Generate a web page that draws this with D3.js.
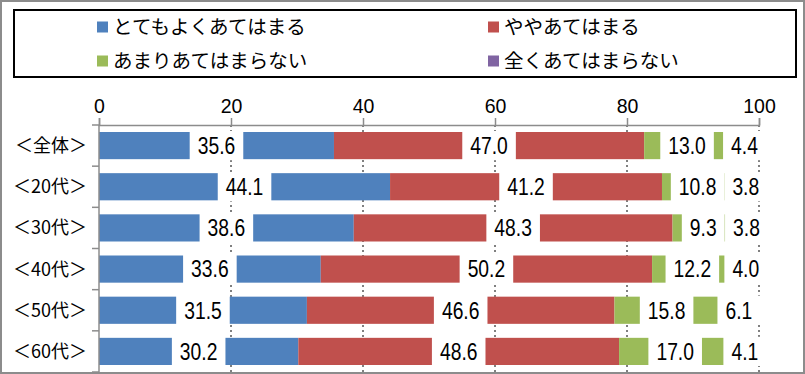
<!DOCTYPE html>
<html>

<head>
    <meta charset="UTF-8">
    <style>
        body { margin: 0; background: #fff; }
        svg { display: block; }
    </style>
</head>

<body>
    <div id="chart"></div>

    <script src="https://d3js.org/d3.v7.min.js"></script>
    <script>

        // Data
        const categories = ["＜全体＞", "＜20代＞", "＜30代＞", "＜40代＞", "＜50代＞", "＜60代＞"];
        const seriesNames = ["とてもよくあてはまる", "ややあてはまる", "あまりあてはまらない", "全くあてはまらない"];
        const seriesColors = ["#4F81BD", "#C0504D", "#9BBB59", "#8064A2"];
        const veryMuch = [35.6, 44.1, 38.6, 33.6, 31.5, 30.2];
        const somewhat = [47.0, 41.2, 48.3, 50.2, 46.6, 48.6];
        const notMuch = [13.0, 10.8, 9.3, 12.2, 15.8, 17.0];
        const notAtAll = [4.4, 3.8, 3.8, 4.0, 6.1, 4.1];
        const xTicks = [0, 20, 40, 60, 80, 100];

        const W = 805, H = 374;
        const plot = { left: 99, right: 759, top: 125, bottom: 372 };

        const svg = d3.select("#chart").append("svg")
            .attr("width", W)
            .attr("height", H);

        // outer frame
        svg.append("rect")
            .attr("x", 1).attr("y", 1)
            .attr("width", W - 2).attr("height", H - 2)
            .attr("fill", "#fff")
            .attr("stroke", "#8c8c8c")
            .attr("stroke-width", 2);

        // legend box
        svg.append("rect")
            .attr("x", 14).attr("y", 10)
            .attr("width", 782).attr("height", 67)
            .attr("fill", "none")
            .attr("stroke", "#000")
            .attr("stroke-width", 2);

        const legendPos = [[97, 27], [488, 27], [97, 61], [488, 61]];
        const legend = svg.append("g").selectAll("g")
            .data(seriesNames)
            .join("g")
            .attr("transform", (d, i) => `translate(${legendPos[i][0]}, ${legendPos[i][1]})`);
        legend.append("rect")
            .attr("x", 0).attr("y", -5.5)
            .attr("width", 11).attr("height", 11)
            .attr("fill", (d, i) => seriesColors[i]);
        legend.append("text")
            .attr("x", 16).attr("y", 0)
            .attr("dy", "0.36em")
            .style("font-family", "'Noto Sans CJK JP', sans-serif")
            .style("font-size", "19.5px")
            .attr("fill", "#000")
            .text(d => d);

        // scales
        const x = d3.scaleLinear().domain([0, 100]).range([plot.left, plot.right]);
        const y = d3.scaleBand().domain(categories).range([plot.top, plot.bottom]).paddingInner(0.34).paddingOuter(0.17);

        // dotted grid
        svg.append("g").selectAll("line")
            .data(xTicks.slice(1))
            .join("line")
            .attr("x1", d => x(d)).attr("x2", d => x(d))
            .attr("y1", plot.top).attr("y2", plot.bottom)
            .attr("stroke", "#000")
            .attr("stroke-width", 1)
            .attr("stroke-dasharray", "2,3");

        // top axis
        const xAxis = svg.append("g")
            .attr("transform", `translate(0, ${plot.top})`)
            .call(d3.axisTop(x).tickValues(xTicks).tickSize(7).tickPadding(5));
        xAxis.select(".domain").attr("stroke", "#8c8c8c").attr("stroke-width", 1.5);
        xAxis.selectAll(".tick line").attr("stroke", "#8c8c8c").attr("stroke-width", 1.5);
        xAxis.selectAll("text")
            .style("font-family", "Arial, 'Liberation Sans', sans-serif")
            .style("font-size", "19.5px")
            .attr("fill", "#000");

        // stacked data
        const table = categories.map((c, i) => ({
            cat: c,
            vals: [veryMuch[i], somewhat[i], notMuch[i], notAtAll[i]]
        }));
        const segs = [];
        table.forEach(row => {
            let acc = 0;
            row.vals.forEach((v, k) => {
                segs.push({ cat: row.cat, k: k, v: v, x0: acc, x1: acc + v });
                acc += v;
            });
        });

        svg.append("g").selectAll("rect")
            .data(segs)
            .join("rect")
            .attr("x", d => x(d.x0))
            .attr("y", d => y(d.cat))
            .attr("width", d => x(d.x1) - x(d.x0))
            .attr("height", y.bandwidth())
            .attr("fill", d => seriesColors[d.k]);

        // left axis (band boundaries as ticks)
        const yl = svg.append("g");
        yl.append("line")
            .attr("x1", plot.left).attr("x2", plot.left)
            .attr("y1", plot.top).attr("y2", plot.bottom)
            .attr("stroke", "#8c8c8c").attr("stroke-width", 1.5);
        yl.selectAll(".bt")
            .data(d3.range(categories.length + 1))
            .join("line")
            .attr("class", "bt")
            .attr("x1", plot.left - 7).attr("x2", plot.left)
            .attr("y1", i => plot.top + i * y.step())
            .attr("y2", i => plot.top + i * y.step())
            .attr("stroke", "#8c8c8c").attr("stroke-width", 1.5);
        yl.selectAll("text")
            .data(categories)
            .join("text")
            .attr("x", 87)
            .attr("y", d => y(d) + y.bandwidth() / 2)
            .attr("dy", "0.36em")
            .attr("text-anchor", "end")
            .style("font-family", "'Noto Sans CJK JP', sans-serif")
            .style("font-size", "18px")
            .attr("fill", "#000")
            .text(d => d);

        // value labels with white boxes (narrow digits, as in the original)
        const squeeze = 0.84;
        const labels = svg.append("g").selectAll("g")
            .data(segs)
            .join("g")
            .attr("transform", d => `translate(${(x(d.x0) + x(d.x1)) / 2}, ${y(d.cat) + y.bandwidth() / 2})`);
        const ltext = labels.append("text")
            .attr("text-anchor", "middle")
            .attr("dy", "0.36em")
            .attr("transform", `scale(${squeeze}, 1)`)
            .style("font-family", "Arial, 'Liberation Sans', sans-serif")
            .style("font-size", "23px")
            .attr("fill", "#000")
            .text(d => d.v.toFixed(1));
        ltext.each(function () {
            const w = this.getComputedTextLength() * squeeze;
            d3.select(this.parentNode).insert("rect", "text")
                .attr("x", -w / 2 - 8)
                .attr("y", -y.bandwidth() / 2 - 1)
                .attr("width", w + 16)
                .attr("height", y.bandwidth() + 2)
                .attr("fill", "#fff");
        });

    </script>
</body>

</html>
